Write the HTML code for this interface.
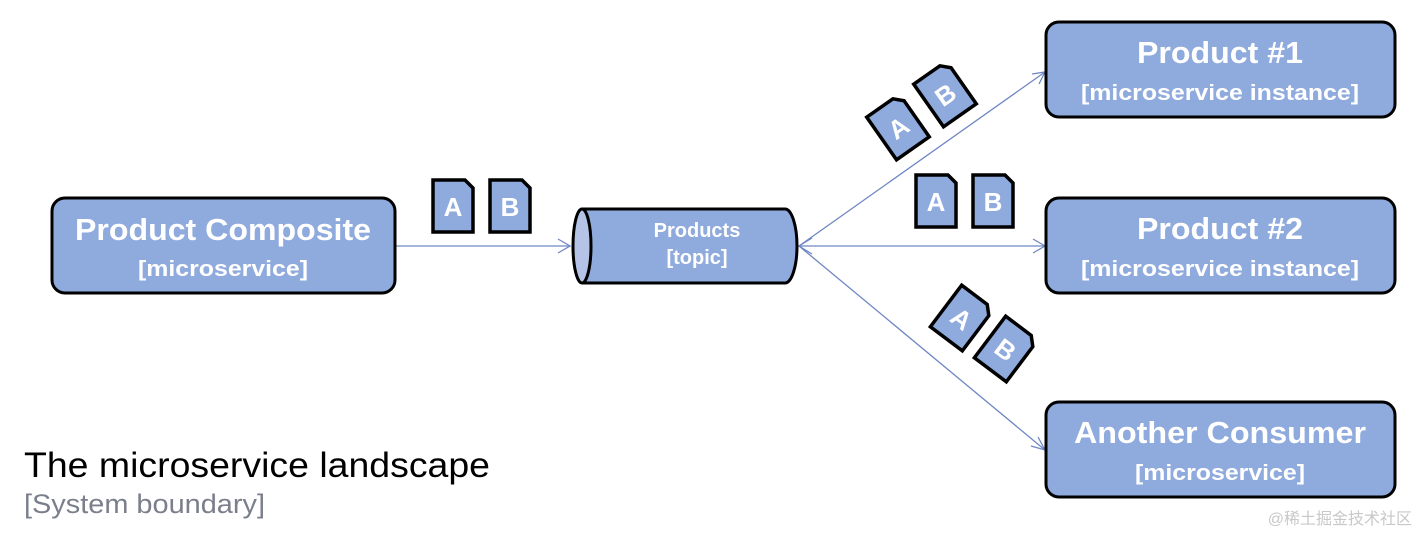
<!DOCTYPE html>
<html><head><meta charset="utf-8"><style>
html,body{margin:0;padding:0;background:#fff;}
svg{display:block;}
.t{font-family:"Liberation Sans",sans-serif;font-weight:bold;fill:#fff;text-anchor:middle;}
</style></head><body>
<svg width="1419" height="534" viewBox="0 0 1419 534" xmlns="http://www.w3.org/2000/svg">
<defs>
<g id="doc"><path d="M-20,-26 H12 L20,-18 V26 H-20 Z" fill="#8faadc" stroke="#000" stroke-width="3.5" stroke-linejoin="miter"/></g>
</defs>
<g stroke="#6f86c4" stroke-width="1.3" fill="none">
<line x1="396" y1="246" x2="570" y2="246"/>
<polyline points="558,239 570,246 558,253"/>
<line x1="799" y1="246" x2="1045" y2="72"/>
<polyline points="1032,74 1045,72 1039,84"/>
<line x1="799" y1="246" x2="1045" y2="246"/>
<polyline points="1033,239 1045,246 1033,253"/>
<line x1="799" y1="246" x2="1045" y2="450"/>
<polyline points="1038,437 1045,450 1031,446"/>
<polyline points="812,238 799,246 812,254"/>
</g>
<rect x="52" y="198" width="343" height="95" rx="13" fill="#8faadc" stroke="#000" stroke-width="3"/>
<text class="t" x="223" y="240" font-size="31" textLength="296" lengthAdjust="spacingAndGlyphs">Product Composite</text>
<text class="t" x="223" y="276" font-size="22" textLength="170" lengthAdjust="spacingAndGlyphs">[microservice]</text>
<rect x="1046" y="22" width="349" height="95" rx="13" fill="#8faadc" stroke="#000" stroke-width="3"/>
<text class="t" x="1220" y="63" font-size="31" textLength="166" lengthAdjust="spacingAndGlyphs">Product #1</text>
<text class="t" x="1220" y="100" font-size="22" textLength="278" lengthAdjust="spacingAndGlyphs">[microservice instance]</text>
<rect x="1046" y="198" width="349" height="95" rx="13" fill="#8faadc" stroke="#000" stroke-width="3"/>
<text class="t" x="1220" y="239" font-size="31" textLength="166" lengthAdjust="spacingAndGlyphs">Product #2</text>
<text class="t" x="1220" y="276" font-size="22" textLength="278" lengthAdjust="spacingAndGlyphs">[microservice instance]</text>
<rect x="1046" y="402" width="349" height="95" rx="13" fill="#8faadc" stroke="#000" stroke-width="3"/>
<text class="t" x="1220" y="443" font-size="31" textLength="292" lengthAdjust="spacingAndGlyphs">Another Consumer</text>
<text class="t" x="1220" y="480" font-size="22" textLength="170" lengthAdjust="spacingAndGlyphs">[microservice]</text>
<path d="M582,209 H785 A12,37 0 0 1 785,283 H582" fill="#8faadc" stroke="#000" stroke-width="3"/>
<ellipse cx="582" cy="246" rx="9" ry="37" fill="#b4c3e6" stroke="#000" stroke-width="3"/>
<text class="t" x="697" y="237" font-size="20">Products</text>
<text class="t" x="697" y="264" font-size="20">[topic]</text>
<g class="t" font-size="26">
<g transform="translate(453,206)"><use href="#doc"/><text y="10">A</text></g>
<g transform="translate(510,206)"><use href="#doc"/><text y="10">B</text></g>
<g transform="translate(936,201)"><use href="#doc"/><text y="10">A</text></g>
<g transform="translate(993,201)"><use href="#doc"/><text y="10">B</text></g>
<g transform="translate(898,127) rotate(-35)"><use href="#doc"/><text y="10">A</text></g>
<g transform="translate(945,94) rotate(-35)"><use href="#doc"/><text y="10">B</text></g>
<g transform="translate(962,318) rotate(37)"><use href="#doc"/><text y="10">A</text></g>
<g transform="translate(1006,349) rotate(37)"><use href="#doc"/><text y="10">B</text></g>
</g>
<text x="24" y="477" font-family="Liberation Sans,sans-serif" font-size="35" fill="#000" textLength="466" lengthAdjust="spacingAndGlyphs">The microservice landscape</text>
<text x="24" y="513" font-family="Liberation Sans,sans-serif" font-size="27" fill="#7a7f8c" textLength="241" lengthAdjust="spacingAndGlyphs">[System boundary]</text>
<text x="1412" y="524" text-anchor="end" font-family="Liberation Sans,'Noto Sans CJK SC',sans-serif" font-size="16" fill="#c8c8c8">@稀土掘金技术社区</text>
</svg>
</body></html>
